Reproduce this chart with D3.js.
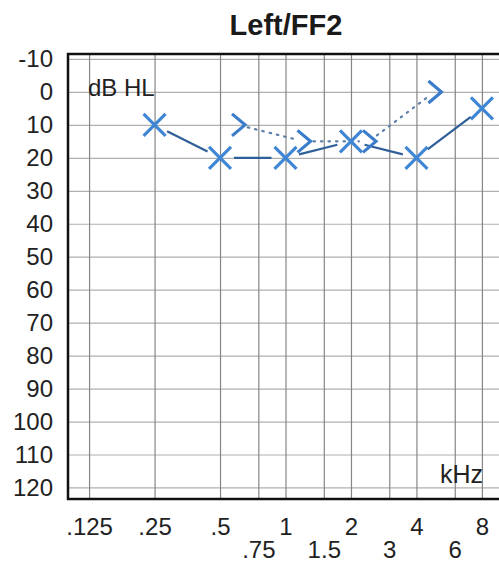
<!DOCTYPE html>
<html>
<head>
<meta charset="utf-8">
<script src="https://cdn.jsdelivr.net/npm/d3@7"></script>
<style>
  body { margin: 0; background: #fff; }
  text { font-family: "Liberation Sans", Arial, sans-serif; }
</style>
</head>
<body>
<div id="chart"></div>
<script>
// audiogram values
var airFreq = [0.25, 0.5, 1, 2, 4, 8];
var airDb = [10, 20, 20, 15, 20, 5];
var boneFreq = [0.5, 1, 2, 4];
var boneDb = [10, 15, 15, 0];
var freqTop = [0.125, 0.25, 0.5, 1, 2, 4, 8];
var freqTopLabels = [".125", ".25", ".5", "1", "2", "4", "8"];
var freqLow = [0.75, 1.5, 3, 6];
var freqLowLabels = [".75", "1.5", "3", "6"];
var dbTicks = d3.range(-10, 121, 10);

var w = 499, h = 562;
var pLeft = 68, pTop = 54, pBottom = 499, pRight = 503;

var svg = d3.select("#chart").append("svg")
  .attr("width", w).attr("height", h);

var x = d3.scaleLog().domain([0.1, 10]).range([pLeft, pRight]);
var y = d3.scaleLinear().domain([-11.5, 123.5]).range([pTop, pBottom]);

// horizontal grid
svg.append("g")
  .attr("transform", "translate(" + pLeft + ",0)")
  .call(d3.axisLeft(y).tickValues(dbTicks).tickSize(-(w - pLeft)).tickFormat(""))
  .call(g => g.select(".domain").remove())
  .call(g => g.selectAll("line").attr("stroke", "#b0b0b0").attr("stroke-width", 1.2));

// vertical grid
svg.append("g")
  .attr("transform", "translate(0," + pBottom + ")")
  .call(d3.axisBottom(x).tickValues(freqTop.concat(freqLow)).tickSize(-(pBottom - pTop)).tickFormat(""))
  .call(g => g.select(".domain").remove())
  .call(g => g.selectAll("line").attr("stroke", "#868686").attr("stroke-width", 1.2));

// border
svg.append("path")
  .attr("d", "M" + w + "," + pTop + "H" + pLeft + "V" + pBottom + "H" + w)
  .attr("fill", "none").attr("stroke", "#111").attr("stroke-width", 2.5);

// y labels
svg.append("g")
  .attr("transform", "translate(" + pLeft + ",0)")
  .call(d3.axisLeft(y).tickValues(dbTicks).tickSize(0).tickPadding(15)
    .tickFormat(d => String(d)))
  .call(g => g.select(".domain").remove())
  .call(g => g.selectAll("text").attr("font-size", 24).attr("fill", "#222")
    .attr("font-family", "Liberation Sans, Arial, sans-serif"));

// x labels, two rows
svg.append("g")
  .attr("transform", "translate(0,535)")
  .call(d3.axisBottom(x).tickValues(freqTop).tickSize(0)
    .tickFormat((d, i) => freqTopLabels[i]))
  .call(g => g.select(".domain").remove())
  .call(g => g.selectAll("text").attr("y", 0).attr("dy", 0).attr("font-size", 24)
    .attr("fill", "#222").attr("font-family", "Liberation Sans, Arial, sans-serif"));

svg.append("g")
  .attr("transform", "translate(0,558)")
  .call(d3.axisBottom(x).tickValues(freqLow).tickSize(0)
    .tickFormat((d, i) => freqLowLabels[i]))
  .call(g => g.select(".domain").remove())
  .call(g => g.selectAll("text").attr("y", 0).attr("dy", 0).attr("font-size", 24)
    .attr("fill", "#222").attr("font-family", "Liberation Sans, Arial, sans-serif"));

// title and unit labels
svg.append("text").attr("x", 286).attr("y", 35).attr("text-anchor", "middle")
  .attr("font-size", 29).attr("font-weight", "bold").attr("fill", "#1a1a1a").text("Left/FF2");
svg.append("text").attr("x", 88).attr("y", 96)
  .attr("font-size", 24).attr("fill", "#222").text("dB HL");
svg.append("text").attr("x", 440).attr("y", 483)
  .attr("font-size", 25).attr("fill", "#222").text("kHz");

// helper: segment between two points shortened at both ends
function seg(a, b, g1, g2) {
  var dx = b[0] - a[0], dy = b[1] - a[1], L = Math.sqrt(dx * dx + dy * dy);
  return [[a[0] + dx * g1 / L, a[1] + dy * g1 / L], [b[0] - dx * g2 / L, b[1] - dy * g2 / L]];
}

var air = airFreq.map((f, i) => [x(f), y(airDb[i])]);
var bone = boneFreq.map((f, i) => [x(f) + 18, y(boneDb[i])]);

// bone conduction dotted line
for (var i = 0; i < bone.length - 1; i++) {
  var s = seg(bone[i], bone[i + 1], 10, 10);
  svg.append("line")
    .attr("x1", s[0][0]).attr("y1", s[0][1]).attr("x2", s[1][0]).attr("y2", s[1][1])
    .attr("stroke", "#5f7fa8").attr("stroke-width", 2.2)
    .attr("stroke-dasharray", "1.5,6").attr("stroke-linecap", "round");
}

// air conduction solid line
for (var j = 0; j < air.length - 1; j++) {
  var s2 = seg(air[j], air[j + 1], 14, 14);
  svg.append("line")
    .attr("x1", s2[0][0]).attr("y1", s2[0][1]).attr("x2", s2[1][0]).attr("y2", s2[1][1])
    .attr("stroke", "#2f5f98").attr("stroke-width", 2.2);
}

// X symbols
svg.append("g").selectAll("path").data(air).join("path")
  .attr("transform", d => "translate(" + d[0] + "," + d[1] + ")")
  .attr("d", "M-11,-11L11,11M-11,11L11,-11")
  .attr("fill", "none").attr("stroke", "#3f86d4").attr("stroke-width", 3.2);

// > symbols
svg.append("g").selectAll("path").data(bone).join("path")
  .attr("transform", d => "translate(" + d[0] + "," + d[1] + ")")
  .attr("d", "M-6,-11L7,0L-6,11")
  .attr("fill", "none").attr("stroke", "#3b7ccb").attr("stroke-width", 3.2);
</script>
</body>
</html>
